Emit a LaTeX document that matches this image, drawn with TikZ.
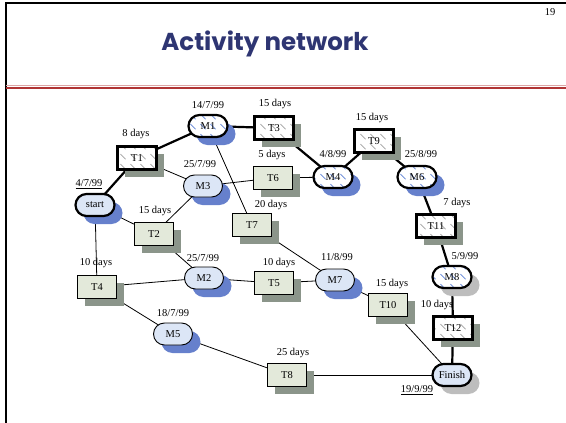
\documentclass[tikz,border=0pt]{standalone}
\usepackage{fontspec}
\setmainfont{Liberation Serif}
\newfontfamily\titlefont{Poppins}
\usetikzlibrary{shapes.misc,shadows,patterns,backgrounds}
\definecolor{navy}{HTML}{2E3572}
\definecolor{boxfill}{HTML}{E3E9DA}
\definecolor{boxshadow}{HTML}{8B958A}
\definecolor{mfill}{HTML}{DCE6F6}
\definecolor{mshadow}{HTML}{6680CC}
\definecolor{gshadow}{HTML}{BDBDBD}
\definecolor{hatchgrey}{HTML}{A0A0A0}
\definecolor{hatchblue}{HTML}{5F82D6}
\definecolor{redline}{HTML}{B03535}
\definecolor{pinkline}{HTML}{DDA5A5}
\pgfdeclarepatternformonly{dhatch}{\pgfpointorigin}{\pgfqpoint{10pt}{10pt}}{\pgfqpoint{10pt}{10pt}}{%
  \pgfsetlinewidth{0.7pt}%
  \pgfpathmoveto{\pgfqpoint{0.5pt}{9.5pt}}%
  \pgfpathlineto{\pgfqpoint{6pt}{4pt}}%
  \pgfusepath{stroke}}
\begin{document}
\begin{tikzpicture}[x=1pt,y=-1pt,
  every node/.style={font=\fontsize{10.5}{12}\selectfont},
  lbl/.style={inner sep=0pt},
  bshadow/.style={drop shadow={shadow xshift=7pt, shadow yshift=-7pt, fill=boxshadow, opacity=1}},
  mshad/.style={drop shadow={shadow xshift=8pt, shadow yshift=-8pt, fill=#1, opacity=1}},
  box/.style={rectangle, draw, line width=0.9pt, minimum width=39pt, minimum height=23pt, inner sep=0pt, bshadow, fill=boxfill},
  cbox/.style={rectangle, draw, line width=2.2pt, minimum width=39pt, minimum height=23pt, inner sep=0pt, bshadow,
     preaction={fill=white}, preaction={pattern=dhatch, pattern color=hatchgrey}},
  ms/.style={rounded rectangle, draw, line width=0.9pt, minimum width=39pt, minimum height=22pt, inner sep=0pt, mshad=mshadow, fill=mfill},
  cms/.style={rounded rectangle, draw, line width=2.2pt, minimum width=39pt, minimum height=22pt, inner sep=0pt, mshad=#1,
     preaction={fill=white}, preaction={pattern=dhatch, pattern color=hatchblue}},
  endms/.style={rounded rectangle, draw, line width=2.2pt, minimum width=39pt, minimum height=22pt, inner sep=0pt, mshad=#1, fill=mfill},
  crit/.style={line width=2.2pt},
  thin/.style={line width=0.8pt}
]
\useasboundingbox (0,0) rectangle (566,423);
% frame
\draw[line width=2pt] (6,423) coordinate (fbl) -- (6,3) coordinate (ftl) -- (566,3) coordinate (ftr);
\draw[pinkline, line width=1.2pt] (6,85.2) coordinate (pl1) -- (566,85.2) coordinate (pl2);
\draw[redline, line width=1.8pt] (6,87.6) coordinate (rl1) -- (566,87.6) coordinate (rl2);
\node[lbl] (page) at (550,12) {19};
\node[lbl, text=navy, font=\titlefont\bfseries\fontsize{24.5}{28}\selectfont] (title) at (265,44) {Activity network};

% nodes
\node[endms=mshadow] (start) at (95,205) {start};
\node[cbox] (T1) at (137,158) {T1};
\node[cms=mshadow] (M1) at (208,126) {M1};
\node[cbox] (T3) at (274,128) {T3};
\node[ms] (M3) at (203,186) {M3};
\node[box] (T6) at (273,178) {T6};
\node[box] (T2) at (154,234) {T2};
\node[box] (T7) at (252,225) {T7};
\node[cms=mshadow] (M4) at (333,177) {M4};
\node[cbox] (T9) at (374,141) {T9};
\node[cms=mshadow] (M6) at (417,177) {M6};
\node[cbox] (T11) at (436,226) {T11};
\node[box] (T4) at (97,287) {T4};
\node[ms] (M2) at (204,278) {M2};
\node[box] (T5) at (274,283) {T5};
\node[ms] (M5) at (173,334) {M5};
\node[box] (T8) at (287,375) {T8};
\node[ms] (M7) at (335,280) {M7};
\node[box] (T10) at (388,305) {T10};
\node[cms=gshadow] (M8) at (452,277) {M8};
\node[cbox] (T12) at (453,328) {T12};
\node[endms=gshadow] (Finish) at (452,375) {Finish};

% labels
\node[lbl] (l1) at (208,105) {14/7/99};
\node[lbl] (l2) at (275,104) {15 days};
\node[lbl] (l3) at (136,134) {8 days};
\node[lbl] (l4) at (200,164) {25/7/99};
\node[lbl] (l5) at (272,155) {5 days};
\node[lbl] (l6) at (89,184) {\underline{4/7/99}};
\node[lbl] (l7) at (155,211) {15 days};
\node[lbl] (l8) at (271,205) {20 days};
\node[lbl] (l9) at (333,154) {4/8/99};
\node[lbl] (l10) at (372,118) {15 days};
\node[lbl] (l11) at (421,154) {25/8/99};
\node[lbl] (l12) at (457,203) {7 days};
\node[lbl] (l13) at (96,263) {10 days};
\node[lbl] (l14) at (203,258) {25/7/99};
\node[lbl] (l15) at (279,263) {10 days};
\node[lbl] (l16) at (173,313) {18/7/99};
\node[lbl] (l17) at (293,353) {25 days};
\node[lbl] (l18) at (337,257) {11/8/99};
\node[lbl] (l19) at (392,284) {15 days};
\node[lbl] (l20) at (465,256) {5/9/99};
\node[lbl] (l21) at (437,305) {10 days};
\node[lbl] (l22) at (417,390) {\underline{19/9/99}};

\begin{scope}[on background layer]
  \draw[crit] (start.center) -- (T1.center) -- (M1.center) -- (T3.center) -- (M4.center) -- (T9.center) -- (M6.center) -- (T11.center) -- (M8.center) -- (T12.center) -- (Finish.center);
  \draw[thin] (T1.center) -- (M3.center);
  \draw[thin] (M3.center) -- (T6.center);
  \draw[thin] (T6.center) -- (M4.center);
  \draw[thin] (start.center) -- (T2.center);
  \draw[thin] (T2.center) -- (M3.center);
  \draw[thin] (M1.center) -- (T7.center);
  \draw[thin] (T7.center) -- (M7.center);
  \draw[thin] (start.center) -- (T4.center);
  \draw[thin] (T2.center) -- (M2.center);
  \draw[thin] (T4.center) -- (M2.center);
  \draw[thin] (M2.center) -- (T5.center);
  \draw[thin] (T5.center) -- (M7.center);
  \draw[thin] (T4.center) -- (M5.center);
  \draw[thin] (M5.center) -- (T8.center);
  \draw[thin] (T8.center) -- (Finish.center);
  \draw[thin] (M7.center) -- (T10.center);
  \draw[thin] (T10.center) -- (Finish.center);
\end{scope}
\end{tikzpicture}
\end{document}
